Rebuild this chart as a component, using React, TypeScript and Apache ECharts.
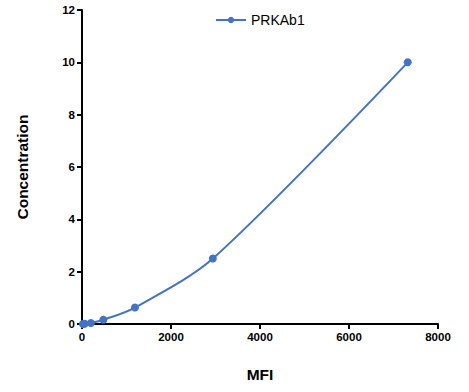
import React, { useEffect, useRef } from "react";
import * as echarts from "echarts";

const seriesName = "PRKAb1";
const mfi = [20, 60, 200, 480, 1190, 2940, 7320];
const concentration = [0, 0.01, 0.04, 0.16, 0.63, 2.5, 10];
const xTitle = "MFI";
const yTitle = "Concentration";

export default function App() {
  const ref = useRef<HTMLDivElement>(null);
  useEffect(() => {
    if (!ref.current) return;
    const chart = echarts.init(ref.current, null, { renderer: "svg" });
    const font = "'Liberation Sans', Arial, sans-serif";
    const axisCommon = {
      axisLine: { show: true, lineStyle: { color: "#000", width: 2 } },
      axisTick: { show: true, length: 5, lineStyle: { color: "#000", width: 2 } },
      splitLine: { show: false },
      nameTextStyle: { color: "#000", fontWeight: "bold", fontSize: 15.5, fontFamily: font },
    };
    const labelStyle = { color: "#000", fontWeight: "bold", fontSize: 11.5, fontFamily: font, margin: 7 };
    chart.setOption({
      animation: false,
      backgroundColor: "#fff",
      grid: { left: 82, right: 31, top: 10, bottom: 68, containLabel: false },
      legend: {
        top: 8,
        left: 210,
        itemWidth: 30,
        itemHeight: 8,
        itemGap: 6,
        textStyle: { color: "#000", fontSize: 14, fontFamily: font },
        data: [seriesName],
      },
      xAxis: {
        type: "value",
        min: 0,
        max: 8000,
        interval: 2000,
        name: xTitle,
        nameLocation: "middle",
        nameGap: 42,
        ...axisCommon,
        axisLabel: { ...labelStyle, formatter: (v: number) => String(v) },
      },
      yAxis: {
        type: "value",
        min: 0,
        max: 12,
        interval: 2,
        name: yTitle,
        nameLocation: "middle",
        nameGap: 52,
        ...axisCommon,
        axisLabel: labelStyle,
      },
      series: [
        {
          name: seriesName,
          type: "line",
          smooth: 0.3,
          symbol: "circle",
          symbolSize: 8,
          color: "#4472C4",
          lineStyle: { width: 2, color: "#4472C4" },
          itemStyle: { color: "#4472C4" },
          data: mfi.map((x, i) => [x, concentration[i]]),
        },
      ],
    });
    return () => chart.dispose();
  }, []);
  return (
    <div
      ref={ref}
      style={{ position: "fixed", left: 0, top: 0, width: 469, height: 392, background: "#fff" }}
    />
  );
}
